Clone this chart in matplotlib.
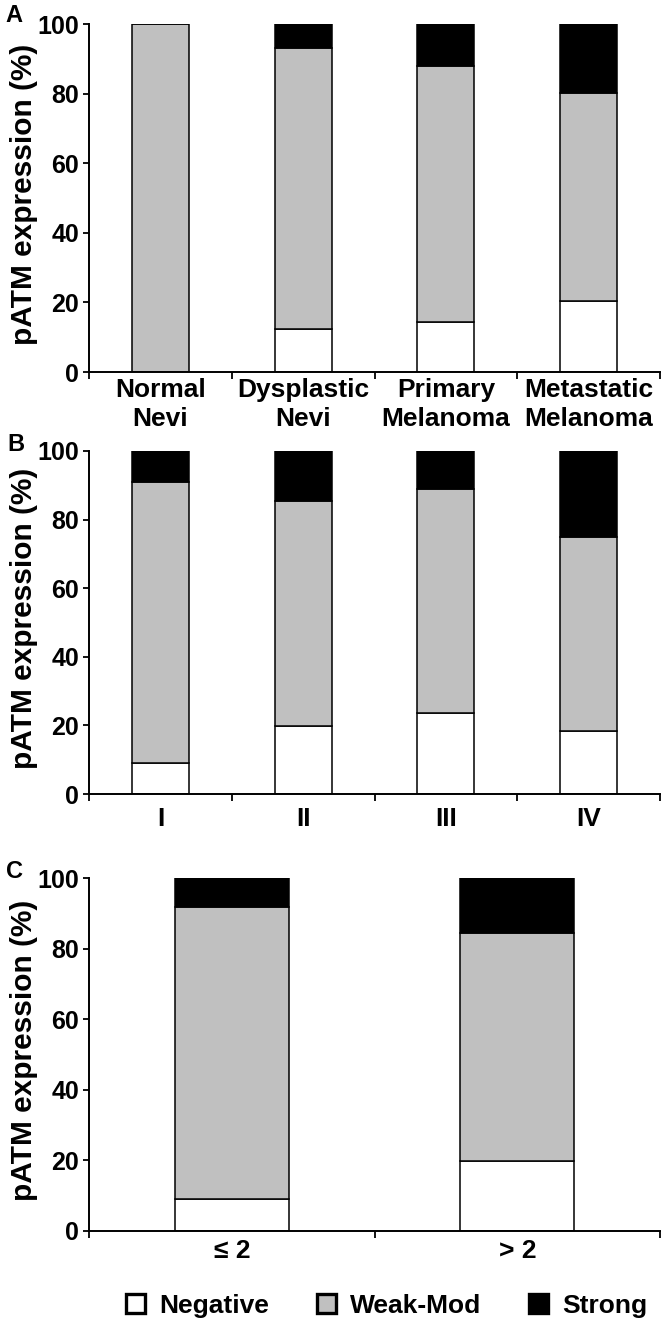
import matplotlib
matplotlib.use("Agg")
import matplotlib.pyplot as plt
from matplotlib.patches import Patch
import numpy as np

# Data
cats_a = ["Normal\nNevi", "Dysplastic\nNevi", "Primary\nMelanoma", "Metastatic\nMelanoma"]
neg_a = [0, 12.3, 14.3, 20.3]
weak_a = [100, 80.9, 73.7, 60.0]
strong_a = [0, 6.8, 12.0, 19.7]

cats_b = ["I", "II", "III", "IV"]
neg_b = [8.9, 19.7, 23.6, 18.5]
weak_b = [82.0, 65.7, 65.4, 56.5]
strong_b = [9.1, 14.6, 11.0, 25.0]

cats_c = ["\u2264 2", "> 2"]
neg_c = [9.2, 19.9]
weak_c = [82.5, 64.4]
strong_c = [8.3, 15.7]

series_names = ["Negative", "Weak-Mod", "Strong"]
colors = ["#ffffff", "#c0c0c0", "#000000"]
yticks = [0, 20, 40, 60, 80, 100]

W, H = 666, 1325
fig = plt.figure(figsize=(W / 100, H / 100), dpi=100)

FONT = dict(family=["Liberation Sans", "DejaVu Sans"], weight="bold")


def px_axes(left, right, top, bottom):
    return fig.add_axes([left / W, 1 - bottom / H, (right - left) / W, (bottom - top) / H])


def draw_panel(ax, cats, neg, weak, strong, letter, letter_xy, top, bottom, xpad):
    x = np.arange(len(cats))
    bottoms = np.zeros(len(cats))
    for vals, col in zip([neg, weak, strong], colors):
        ax.bar(x, vals, width=0.4, bottom=bottoms, color=col, edgecolor="black", linewidth=1.1, zorder=2)
        bottoms = bottoms + np.array(vals)
    ax.set_xlim(-0.5, len(cats) - 0.5)
    ax.set_ylim(0, 100)
    ax.set_yticks(yticks)
    ax.set_yticklabels([str(t) for t in yticks], fontsize=18, **FONT)
    ax.set_xticks(x)
    ax.set_xticklabels(cats, fontsize=19, linespacing=1.3, **FONT)
    ax.tick_params(axis="x", which="major", length=0, pad=xpad)
    ax.set_xticks(np.arange(len(cats) + 1) - 0.5, minor=True)
    ax.tick_params(axis="x", which="minor", length=5, width=1.3, direction="out")
    ax.tick_params(axis="y", length=4, width=1.3, direction="out", pad=3)
    for s in ["top", "right"]:
        ax.spines[s].set_visible(False)
    for s in ["left", "bottom"]:
        ax.spines[s].set_linewidth(1.4)
    ax.set_ylabel("pATM expression (%)", fontsize=21.5, **FONT)
    ycen = (top + bottom) / 2 - 4
    ax.yaxis.set_label_coords(24 / W, 1 - ycen / H, transform=fig.transFigure)
    ax.yaxis.label.set_va("center")
    fig.text(letter_xy[0] / W, 1 - letter_xy[1] / H, letter, fontsize=17, ha="center", va="center", **FONT)


L, R = 89, 660
ax_a = px_axes(L, R, 24, 372)
draw_panel(ax_a, cats_a, neg_a, weak_a, strong_a, "A", (14, 16), 24, 372, 4)
ax_b = px_axes(L, R, 451, 794)
draw_panel(ax_b, cats_b, neg_b, weak_b, strong_b, "B", (16, 444), 451, 794, 9)
ax_c = px_axes(L, R, 878, 1231)
draw_panel(ax_c, cats_c, neg_c, weak_c, strong_c, "C", (14, 872), 878, 1231, 6)

handles = [Patch(facecolor=c, edgecolor="black", linewidth=2.4) for c in colors]
fig.legend(handles, series_names, loc="center left", bbox_to_anchor=(126 / W, 1 - 1306 / H), ncol=3,
           frameon=False, prop=dict(size=19, **FONT), handlelength=0.72, handleheight=0.72,
           columnspacing=1.8, handletextpad=0.55, borderpad=0, borderaxespad=0)

fig.savefig("out.png", dpi=100)
